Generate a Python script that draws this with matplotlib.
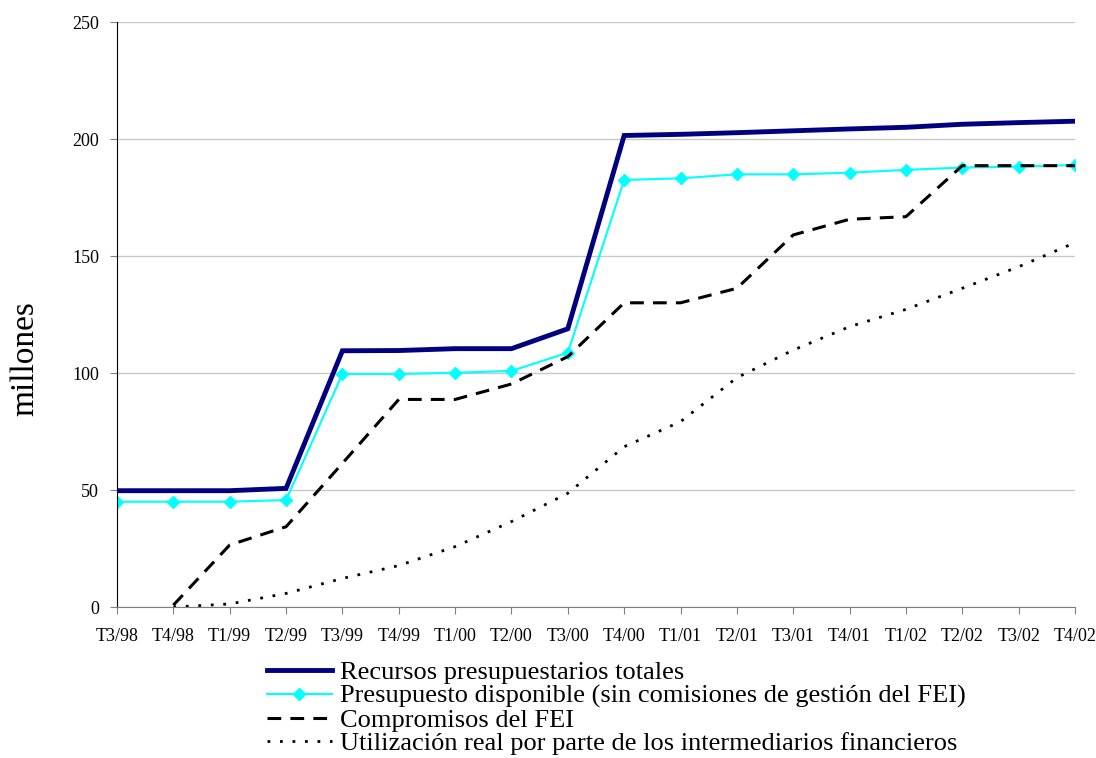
import matplotlib
matplotlib.use("Agg")
import matplotlib.pyplot as plt
import numpy as np

categories = ["T3/98", "T4/98", "T1/99", "T2/99", "T3/99", "T4/99", "T1/00", "T2/00", "T3/00",
              "T4/00", "T1/01", "T2/01", "T3/01", "T4/01", "T1/02", "T2/02", "T3/02", "T4/02"]
recursos = [49.7, 49.7, 49.7, 50.7, 109.5, 109.6, 110.4, 110.4, 118.9,
            201.5, 202.0, 202.7, 203.5, 204.3, 205.0, 206.3, 207.0, 207.6]
presupuesto = [45.0, 45.0, 45.0, 45.7, 99.6, 99.6, 100.1, 100.9, 108.7,
               182.5, 183.2, 184.9, 184.9, 185.6, 186.8, 187.8, 188.2, 188.9]
compromisos = [np.nan, 0.8, 26.5, 34.3, 61.4, 88.7, 88.7, 95.3, 107.0,
               130.0, 130.0, 136.2, 159.0, 165.7, 166.8, 188.6, 188.6, 188.6]
utilizacion = [np.nan, 0.0, 1.3, 5.8, 12.2, 17.7, 25.8, 36.5, 48.6,
               68.5, 79.2, 98.0, 109.8, 119.8, 127.2, 136.2, 145.4, 155.7]
labels = ["Recursos presupuestarios totales",
          "Presupuesto disponible (sin comisiones de gestión del FEI)",
          "Compromisos del FEI",
          "Utilización real por parte de los intermediarios financieros"]

plt.rcParams['font.family'] = ['Liberation Serif', 'DejaVu Serif']

fig = plt.figure(figsize=(10.96, 7.58), dpi=100)
ax = fig.add_axes([117/1096, 1-607/758, (1075-117)/1096, (607-22)/758])
x = np.arange(len(categories))

l1, = ax.plot(x, recursos, color='#000080', lw=3.5, solid_joinstyle='miter')
l2, = ax.plot(x, presupuesto, color='#00FFFF', lw=1.5, marker='D', markersize=6.5)
l3, = ax.plot(x, compromisos, color='black', lw=2.2, dashes=(4.5, 3))
l4, = ax.plot(x, utilizacion, color='black', lw=2, dashes=(1, 3.5))

ax.set_xlim(0, len(categories)-1)
ax.set_ylim(0, 250)
ax.set_yticks([0, 50, 100, 150, 200, 250])
ax.set_xticks(x)
ax.set_xticklabels(categories, fontsize=13)
ax.tick_params(axis='y', labelsize=13, direction='out', length=5, color='#808080', pad=8)
ax.tick_params(axis='x', direction='out', length=5, color='#808080', pad=10)
ax.yaxis.grid(True, color='#c8c8c8', lw=1)
ax.set_axisbelow(True)
for s in ['top', 'right']:
    ax.spines[s].set_visible(False)
ax.spines['left'].set_color('black')
ax.spines['bottom'].set_color('#808080')
fig.text(25/1096, 1-359/758, "millones", rotation=90, ha='center', va='center', fontsize=24)

fig.legend([l1, l2, l3, l4], labels, loc='upper left',
           bbox_to_anchor=(267/1096, 1-661/758), frameon=False, fontsize=19,
           handlelength=2.46, handletextpad=0.3, labelspacing=0.0, borderpad=0,
           borderaxespad=0)

fig.savefig("out.png", dpi=100)
